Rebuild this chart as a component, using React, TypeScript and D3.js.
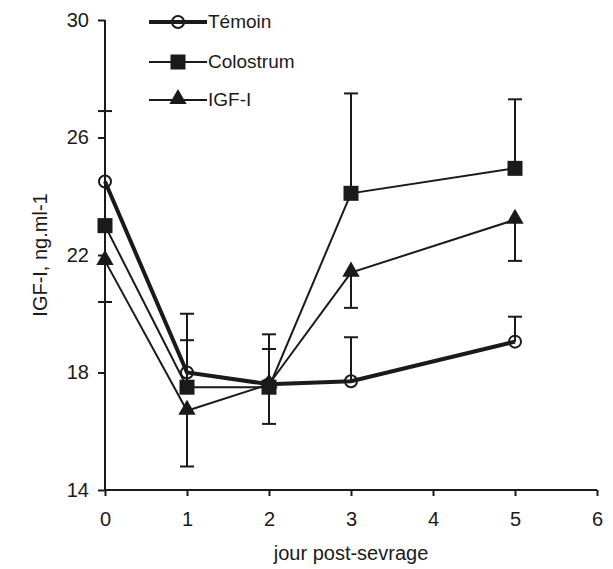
import React, { useEffect, useRef } from "react";
import * as d3 from "d3";

const days = [0, 1, 2, 3, 5];
const temoin = [24.5, 18.0, 17.6, 17.7, 19.05];
const colostrum = [23.0, 17.5, 17.5, 24.1, 24.95];
const igf = [21.8, 16.7, 17.6, 21.4, 23.2];
// error bar ends (upper for témoin/colostrum, lower for IGF-I)
const temoinErr = [26.9, 20.0, 19.3, 19.2, 19.9];
const colostrumErr = [null, 19.1, 18.8, 27.5, 27.3];
const igfErr = [20.4, 14.8, 16.25, 20.2, 21.8];

const xTicks = [0, 1, 2, 3, 4, 5, 6];
const yTicks = [14, 18, 22, 26, 30];

export default function App() {
  const ref = useRef<SVGSVGElement>(null);

  useEffect(() => {
    const width = 613;
    const height = 569;
    const svg = d3.select(ref.current).attr("width", width).attr("height", height);
    svg.selectAll("*").remove();
    const font = "'Liberation Sans', Arial, sans-serif";
    const ink = "#1a1a1a";
    const fs = 20;

    const x = d3.scaleLinear().domain([0, 6]).range([105, 597]);
    const y = d3.scaleLinear().domain([14, 30]).range([490, 20]);

    // error bars
    const errs: [number[], (number | null)[]][] = [
      [temoin, temoinErr],
      [colostrum, colostrumErr],
      [igf, igfErr],
    ];
    const eg = svg.append("g").attr("stroke", ink).attr("stroke-width", 2);
    errs.forEach(([vals, ends]) => {
      days.forEach((d, i) => {
        const e = ends[i];
        if (e == null) return;
        eg.append("line")
          .attr("x1", x(d)).attr("x2", x(d))
          .attr("y1", y(vals[i])).attr("y2", y(e));
        eg.append("line")
          .attr("x1", x(d) - 7).attr("x2", x(d) + 7)
          .attr("y1", y(e)).attr("y2", y(e));
      });
    });

    // axes
    const xAxis = svg
      .append("g")
      .attr("transform", `translate(0,${y(14)})`)
      .call(d3.axisBottom(x).tickValues(xTicks).tickSize(6).tickPadding(16).tickFormat(d3.format("d")));
    const yAxis = svg
      .append("g")
      .attr("transform", `translate(${x(0)},0)`)
      .call(d3.axisLeft(y).tickValues(yTicks).tickSize(7).tickPadding(9).tickFormat(d3.format("d")));
    [xAxis, yAxis].forEach((a) => {
      a.select(".domain").attr("stroke", ink).attr("stroke-width", 2);
      a.selectAll(".tick line").attr("stroke", ink).attr("stroke-width", 2);
      a.selectAll("text").attr("fill", ink).attr("font-size", fs).attr("font-family", font);
    });
    xAxis.select(".domain").attr("d", `M${x(0)},0H${x(6)}`);
    yAxis.select(".domain").attr("d", `M0,${y(30)}V${y(14)}`);

    // lines
    const line = d3
      .line<number>()
      .x((_, i) => x(days[i]))
      .y((v) => y(v));
    svg.append("path").datum(igf).attr("d", line).attr("fill", "none").attr("stroke", ink).attr("stroke-width", 2);
    svg.append("path").datum(colostrum).attr("d", line).attr("fill", "none").attr("stroke", ink).attr("stroke-width", 2);
    svg.append("path").datum(temoin).attr("d", line).attr("fill", "none").attr("stroke", ink).attr("stroke-width", 4);

    const tri = d3.symbol().type(d3.symbolTriangle).size(130);
    const drawCircle = (g: any, cx: number, cy: number) =>
      g.append("circle").attr("cx", cx).attr("cy", cy).attr("r", 6)
        .attr("fill", "none").attr("stroke", ink).attr("stroke-width", 2);
    const drawSquare = (g: any, cx: number, cy: number) =>
      g.append("rect").attr("x", cx - 7.5).attr("y", cy - 7.5).attr("width", 15).attr("height", 15).attr("fill", ink);
    const drawTri = (g: any, cx: number, cy: number) =>
      g.append("path").attr("d", tri()).attr("transform", `translate(${cx},${cy - 1})`).attr("fill", ink);

    const mg = svg.append("g");
    days.forEach((d, i) => drawTri(mg, x(d), y(igf[i])));
    days.forEach((d, i) => drawSquare(mg, x(d), y(colostrum[i])));
    days.forEach((d, i) => drawCircle(mg, x(d), y(temoin[i])));

    // legend
    const legend = [
      { name: "Témoin", y: 22, w: 4, draw: drawCircle },
      { name: "Colostrum", y: 62, w: 2, draw: drawSquare },
      { name: "IGF-I", y: 100, w: 2, draw: drawTri },
    ];
    const lg = svg.append("g");
    legend.forEach((l) => {
      lg.append("line").attr("x1", 149).attr("x2", 207).attr("y1", l.y).attr("y2", l.y)
        .attr("stroke", ink).attr("stroke-width", l.w);
      l.draw(lg, 178, l.y);
      lg.append("text").attr("x", 208).attr("y", l.y + 6).attr("font-size", fs - 1)
        .attr("font-family", font).attr("fill", ink).text(l.name);
    });

    // axis titles
    svg.append("text").attr("x", x(3)).attr("y", 560).attr("text-anchor", "middle")
      .attr("font-size", fs).attr("font-family", font).attr("fill", ink).text("jour post-sevrage");
    svg.append("text").attr("transform", `translate(47,${y(22)}) rotate(-90)`).attr("text-anchor", "middle")
      .attr("font-size", fs).attr("font-family", font).attr("fill", ink).text("IGF-I, ng.ml-1");
  }, []);

  return <svg ref={ref} style={{ display: "block", position: "absolute", left: 0, top: 0 }} />;
}
